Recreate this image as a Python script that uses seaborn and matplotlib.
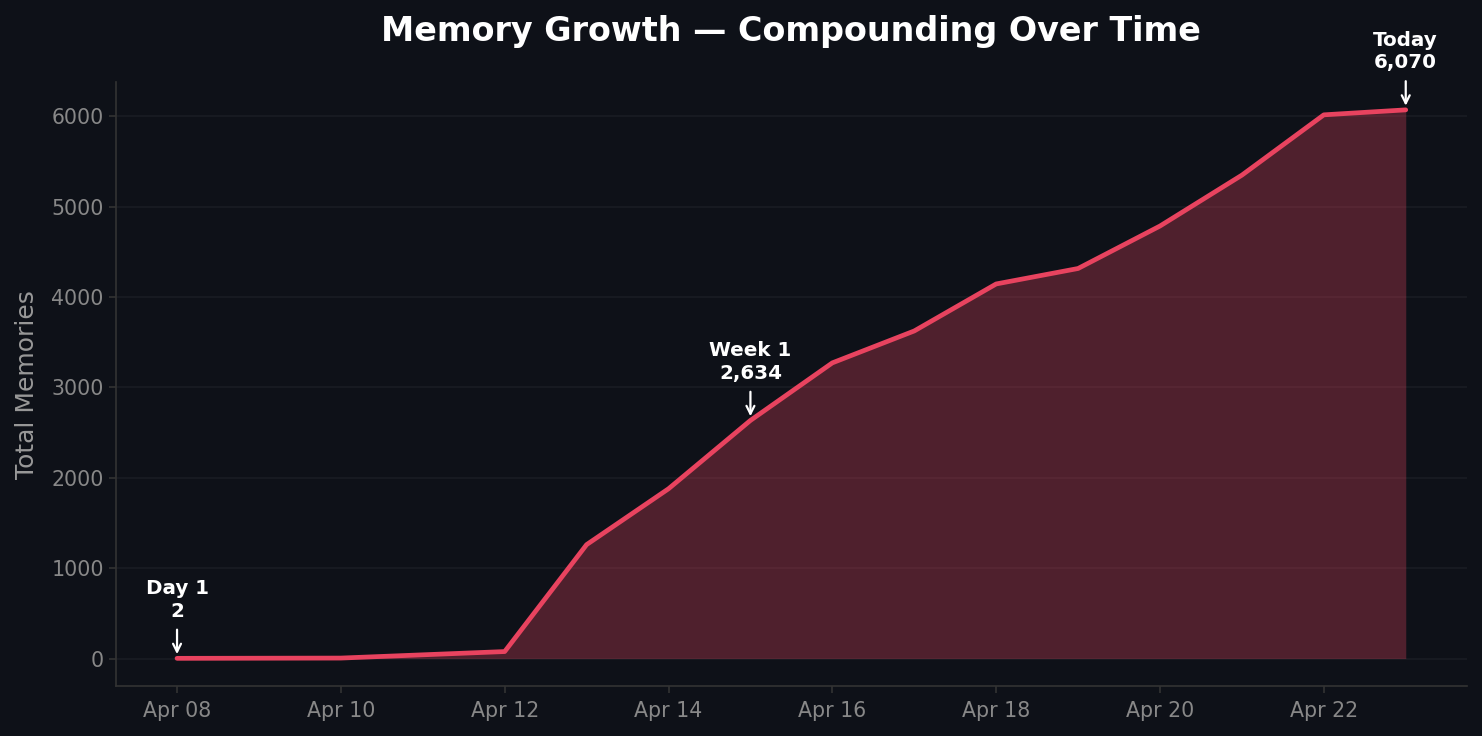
import pandas as pd
import numpy as np
import matplotlib
matplotlib.use("Agg")
import matplotlib.pyplot as plt
import matplotlib.dates as mdates
import seaborn as sns

dates = ["2025-04-08", "2025-04-10", "2025-04-12", "2025-04-13", "2025-04-14",
         "2025-04-15", "2025-04-16", "2025-04-17", "2025-04-18", "2025-04-19",
         "2025-04-20", "2025-04-21", "2025-04-22", "2025-04-23"]
totals = [2, 5, 77, 1260, 1878, 2634, 3271, 3624, 4144, 4315, 4785, 5348, 6015, 6070]

marks = [("Day 1", 0), ("Week 1", 5), ("Today", 13)]

bg = "#0e1118"
line_col = "#e8435f"

sns.set_theme(style="dark")
plt.rcParams['font.family'] = ['DejaVu Sans']

df = pd.DataFrame({"date": pd.to_datetime(dates), "total": totals})

fig, ax = plt.subplots(figsize=(14.82, 7.36), dpi=100)
fig.patch.set_facecolor(bg)
ax.set_facecolor(bg)

sns.lineplot(data=df, x="date", y="total", color=line_col, linewidth=3.4, ax=ax)
ax.fill_between(df["date"], df["total"], color=line_col, alpha=0.3, linewidth=0)

for lab, i in marks:
    v = df["total"].iloc[i]
    ax.annotate(f"{lab}\n{v:,}", xy=(df["date"].iloc[i], v), xytext=(0, 27),
                textcoords="offset points", ha="center", va="bottom",
                color="white", fontsize=14.3, fontweight="bold", linespacing=1.25,
                arrowprops=dict(arrowstyle="->", color="white", lw=1.6,
                                shrinkA=4, shrinkB=3))

ax.xaxis.set_major_locator(mdates.DayLocator(interval=2))
ax.xaxis.set_major_formatter(mdates.DateFormatter("%b %d"))

ax.grid(axis="y", color="#191c23", linewidth=1.2)
ax.grid(axis="x", visible=False)
for s in ["top", "right"]:
    ax.spines[s].set_visible(False)
for s in ["left", "bottom"]:
    ax.spines[s].set_color("#333333")
    ax.spines[s].set_linewidth(1.2)
ax.tick_params(labelsize=14.8, length=5, width=1.2, bottom=True, left=True,
               colors="#333333", labelcolor="#888888")
ax.tick_params(axis="x", pad=6)

ax.set_xlabel("")
ax.set_ylabel("Total Memories", color="#999999", fontsize=18, labelpad=9)
ax.set_title("Memory Growth — Compounding Over Time", color="white",
             fontsize=24, fontweight="bold", pad=30)

fig.subplots_adjust(left=0.078, right=0.99, top=0.888, bottom=0.068)
fig.savefig("out.png", dpi=100, facecolor=bg)
